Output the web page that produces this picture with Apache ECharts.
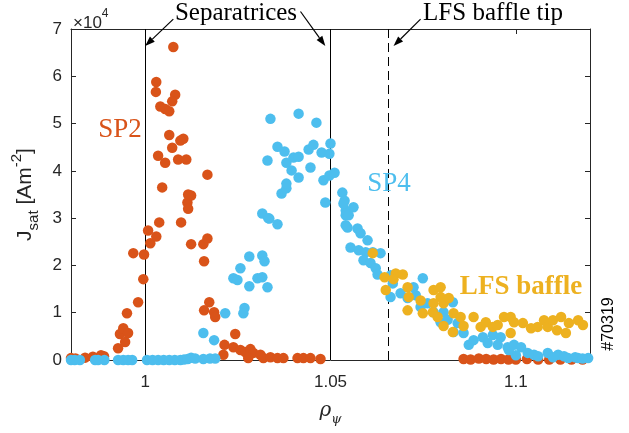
<!DOCTYPE html>
<html>
<head>
<meta charset="utf-8">
<script src="https://cdn.jsdelivr.net/npm/echarts@6/dist/echarts.min.js"></script>
<style>html,body{margin:0;padding:0;background:#fff}#c{width:629px;height:433px}</style>
</head>
<body>
<div id="c"></div>
<script>
// ---- data (x: rho_psi, y: Jsat in A m^-2) ----
const sp2 = [
  [0.9800,400],[0.9812,300],[0.9838,500],[0.9859,700],[0.9881,1000],[0.9889,800],[0.9927,2500],
  [0.9932,5500],[0.9941,6700],[0.9954,5700],[0.9946,3800],[0.9951,9900],[0.9981,12200],[0.9995,17100],
  [0.9997,22300],[0.9968,22600],[1.0008,27400],[1.0014,24700],[1.0030,26100],[1.0038,29100],[1.0097,29100],
  [1.0124,24500],[1.0157,24500],[1.0168,25700],[1.0159,20900],[1.0114,33300],[1.0116,32000],[1.0124,34800],
  [1.0046,36500],[1.0116,35000],[1.0168,39200],[1.0054,41700],[1.0035,43200],[1.0089,42400],[1.0111,42400],
  [1.0065,47600],[1.0103,46800],[1.0095,46400],[1.0073,44900],[1.0030,58800],[1.0029,56700],[1.0081,56100],
  [1.0073,54700],[1.0041,53600],[1.0054,53100],[1.0065,52600],[1.0076,66200],
  [1.0173,12200],[1.0159,10500],[1.0186,10100],[1.0189,9100],[1.0243,5500],[1.0214,3200],[1.0211,1100],
  [1.0238,2700],[1.0257,2100],[1.0270,1700],[1.0284,2300],[1.0292,1500],[1.0278,400],[1.0311,1100],
  [1.0319,400],[1.0338,600],[1.0357,400],[1.0373,400],[1.0411,400],[1.0427,400],[1.0446,400],[1.0473,200],
  [1.0859,200],[1.0878,100],[1.0900,300],[1.0920,200],[1.0940,100],[1.0960,200],[1.0980,100],[1.1000,100],
  [1.1030,200],[1.1060,100],[1.1090,100],[1.1120,100],[1.1150,100],[1.1180,100]
];
const sp4 = [
  [0.9800,0],[0.9810,0],[0.9824,0],[0.9865,0],[0.9873,0],[0.9890,0],[0.9927,0],[0.9941,0],[0.9954,0],
  [0.9965,0],[1.0005,0],[1.0020,0],[1.0035,0],[1.0050,0],[1.0065,0],[1.0080,0],[1.0095,0],[1.0105,100],
  [1.0115,200],[1.0124,500],[1.0135,300],[1.0157,200],[1.0175,300],[1.0189,300],
  [1.0157,5700],[1.0186,4200],[1.0216,9900],[1.0268,11000],[1.0265,9900],[1.0238,17300],[1.0249,16900],
  [1.0257,19400],[1.0281,21900],[1.0281,15600],[1.0303,17300],[1.0316,17500],[1.0330,15400],[1.0316,22100],
  [1.0322,20900],[1.0316,31000],[1.0332,30000],[1.0357,28700],[1.0368,35200],[1.0381,36300],[1.0381,37300],
  [1.0338,51000],[1.0414,52100],[1.0462,50200],[1.0357,45100],[1.0376,44100],[1.0330,42200],[1.0381,41700],
  [1.0400,42800],[1.0414,43000],[1.0395,40100],[1.0414,38600],[1.0446,40700],[1.0441,44500],[1.0454,45500],
  [1.0476,43900],[1.0500,45800],[1.0497,43600],[1.0481,38000],[1.0497,39000],[1.0511,39600],[1.0486,33300],
  [1.0532,35400],[1.0538,33700],[1.0541,31600],[1.0541,30600],[1.0541,28500],[1.0335,29900],
  [1.0535,33100],[1.0549,30600],[1.0562,32300],[1.0546,28000],[1.0573,27800],[1.0581,26800],[1.0600,25300],
  [1.0554,23800],[1.0576,23200],[1.0595,22800],[1.0614,22800],[1.0635,22600],[1.0589,21100],[1.0608,20500],
  [1.0622,19400],[1.0627,18100],[1.0662,17900],[1.0668,16200],[1.0662,13300],[1.0689,14100],[1.0708,13100],
  [1.0724,15400],[1.0749,17300],[1.0730,13700],[1.0743,11200],[1.0762,12000],[1.0778,10100],[1.0805,10100],
  [1.0830,12200],[1.0797,8000],[1.0816,8500],[1.0843,7800],[1.0832,5900],[1.0859,5700],[1.0873,3200],
  [1.0886,4200],[1.0911,4800],[1.0938,5300],[1.0959,4800],[1.0924,3600],[1.0951,3200],[1.0978,2700],
  [1.0981,2100],[1.0995,3200],[1.1014,2700],[1.1032,1500],[1.1049,1100],[1.1086,1500],[1.1114,1100],
  [1.1141,400],[1.1168,400],[1.1195,400],[1.1000,1000],[1.1060,800],[1.1100,600],[1.1130,800],[1.1160,600],
  [1.1180,300]
];
const lfs = [
  [1.0614,22600],[1.0646,17500],[1.0649,14800],[1.0676,18300],[1.0695,18100],[1.0670,17100],[1.0708,15400],
  [1.0711,13300],[1.0708,10500],[1.0743,12600],[1.0778,14800],[1.0797,15400],[1.0797,13300],[1.0778,12000],
  [1.0805,12000],[1.0819,13100],[1.0749,9900],[1.0776,10100],[1.0789,9100],[1.0805,7200],[1.0830,5900],
  [1.0832,9900],[1.0851,9100],[1.0859,7200],[1.0886,9100],[1.0905,7000],[1.0919,8000],[1.0938,7000],
  [1.0951,7400],[1.0968,9100],[1.0986,9100],[1.0986,5700],[1.0995,8000],[1.1019,7800],[1.1041,6700],
  [1.1059,7000],[1.1076,8400],[1.1086,7000],[1.1100,8400],[1.1111,6300],[1.1122,9100],[1.1135,5700],
  [1.1143,7800],[1.1168,8400],[1.1181,7400]
];
const xTickValues = [1, 1.05, 1.1];
const xTickLabels = ['1', '1.05', '1.1'];
const separatrices = [1.0, 1.05];
const baffleTip = 1.0657;
// annotation arrows: [start, head] in data coordinates
const arrows = [
  [[1.0076, 72100], [1.0, 66400]],
  [[1.0419, 73700], [1.0486, 66400]],
  [[1.0743, 72100], [1.0670, 66400]]
];

const AX = '#262626';
const chart = echarts.init(document.getElementById('c'), null, {renderer: 'canvas'});
const sym = 10.5;
const option = {
  animation: false,
  backgroundColor: '#fff',
  grid: {left: 71, right: 39, top: 29, bottom: 73, containLabel: false},
  xAxis: [{
    type: 'value', min: 0.98, max: 1.12,
    axisLine: {show: true, onZero: false, lineStyle: {color: AX, width: 1}},
    axisTick: {show: true, inside: true, length: 5, customValues: xTickValues, lineStyle: {color: AX}},
    axisLabel: {show: true, customValues: xTickValues, margin: 14,
      formatter: v => xTickLabels[xTickValues.findIndex(t => Math.abs(t - v) < 1e-9)] ?? '',
      color: AX, fontFamily: 'Liberation Sans', fontSize: 17},
    splitLine: {show: false},
    name: '{r|ρ}{s|ψ}', nameLocation: 'middle', nameGap: 36,
    nameTextStyle: {rich: {
      r: {fontFamily: 'DejaVu Serif', fontStyle: 'italic', fontSize: 20, color: AX, lineHeight: 30, verticalAlign: 'middle'},
      s: {fontFamily: 'DejaVu Serif', fontStyle: 'italic', fontSize: 13, color: AX, lineHeight: 30, verticalAlign: 'bottom'}
    }}
  }, {
    type: 'value', min: 0.98, max: 1.12, position: 'top',
    axisLine: {show: true, onZero: false, lineStyle: {color: AX, width: 1}},
    axisTick: {show: true, inside: true, length: 5, customValues: xTickValues, lineStyle: {color: AX}},
    axisLabel: {show: false}, splitLine: {show: false}
  }],
  yAxis: [{
    type: 'value', min: 0, max: 70000, interval: 10000,
    axisLine: {show: true, onZero: false, lineStyle: {color: AX, width: 1}},
    axisTick: {show: true, inside: true, length: 5, lineStyle: {color: AX}},
    axisLabel: {show: true, margin: 9, formatter: v => String(Math.round(v / 10000)),
      color: AX, fontFamily: 'Liberation Sans', fontSize: 17},
    splitLine: {show: false},
    name: '{j|J}{sub|sat}{t| [Am}{sup|-2}{t|]}', nameLocation: 'middle', nameGap: 30, nameRotate: 90,
    nameTextStyle: {rich: {
      j: {fontFamily: 'Liberation Sans', fontSize: 21, color: AX, lineHeight: 32, verticalAlign: 'middle'},
      t: {fontFamily: 'Liberation Sans', fontSize: 21, color: AX, lineHeight: 32, verticalAlign: 'middle'},
      sub: {fontFamily: 'Liberation Sans', fontSize: 15, color: AX, lineHeight: 32, verticalAlign: 'bottom'},
      sup: {fontFamily: 'Liberation Sans', fontSize: 15, color: AX, lineHeight: 32, verticalAlign: 'top'}
    }}
  }, {
    type: 'value', min: 0, max: 70000, interval: 10000, position: 'right',
    axisLine: {show: true, onZero: false, lineStyle: {color: AX, width: 1}},
    axisTick: {show: true, inside: true, length: 5, lineStyle: {color: AX}},
    axisLabel: {show: false}, splitLine: {show: false}
  }],
  series: [
    {type: 'scatter', name: 'SP2', data: sp2, symbolSize: sym, clip: false,
      itemStyle: {color: '#D95319', opacity: 1}, z: 2},
    {type: 'scatter', name: 'SP4', data: sp4, symbolSize: sym, clip: false,
      itemStyle: {color: '#4DBEEE', opacity: 1}, z: 3},
    {type: 'scatter', name: 'LFS baffle', data: lfs, symbolSize: sym, clip: false,
      itemStyle: {color: '#EDB120', opacity: 1}, z: 4,
      markLine: {silent: true, symbol: 'none', animation: false, precision: 6, label: {show: false}, z: 1,
        data: [
          ...separatrices.map(v => ({xAxis: v, lineStyle: {color: '#000', width: 1, type: 'solid'}})),
          {xAxis: baffleTip, lineStyle: {color: '#000', width: 1, type: [9, 5]}}
        ]}}
  ]
};
chart.setOption(option);

const P = d => chart.convertToPixel({xAxisIndex: 0, yAxisIndex: 0}, d);
const graphics = [];
arrows.forEach(([s, h]) => {
  const a = P(s), b = P(h);
  const dx = b[0] - a[0], dy = b[1] - a[1], L = Math.hypot(dx, dy);
  const ux = dx / L, uy = dy / L, hl = 10, hw = 3.5;
  const bx = b[0] - ux * hl, by = b[1] - uy * hl;
  graphics.push({type: 'line', shape: {x1: a[0], y1: a[1], x2: bx, y2: by}, style: {stroke: '#000', lineWidth: 1.2}, z: 10});
  graphics.push({type: 'polygon', shape: {points: [[b[0], b[1]], [bx - uy * hw, by + ux * hw], [bx + uy * hw, by - ux * hw]]}, style: {fill: '#000'}, z: 10});
});
const serif = 'Liberation Serif';
graphics.push(
  {type: 'text', x: 236, y: 13, style: {text: 'Separatrices', font: '25px "' + serif + '"', fill: '#000', align: 'center', verticalAlign: 'middle'}, z: 11},
  {type: 'text', x: 493, y: 13, style: {text: 'LFS baffle tip', font: '25px "' + serif + '"', fill: '#000', align: 'center', verticalAlign: 'middle'}, z: 11},
  {type: 'text', x: 120, y: 130, style: {text: 'SP2', font: '27px "' + serif + '"', fill: '#D95319', align: 'center', verticalAlign: 'middle'}, z: 11},
  {type: 'text', x: 389, y: 184, style: {text: 'SP4', font: '27px "' + serif + '"', fill: '#4DBEEE', align: 'center', verticalAlign: 'middle'}, z: 11},
  {type: 'text', x: 521, y: 287, style: {text: 'LFS baffle', font: 'bold 27px "' + serif + '"', fill: '#EDB120', align: 'center', verticalAlign: 'middle'}, z: 11},
  {type: 'text', x: 73, y: 20, style: {
    text: '{a|×10}{b|4}', fill: AX, verticalAlign: 'middle', align: 'left',
    rich: {a: {fontFamily: 'Liberation Sans', fontSize: 17, color: AX, lineHeight: 24, verticalAlign: 'bottom'},
           b: {fontFamily: 'Liberation Sans', fontSize: 12, color: AX, lineHeight: 24, verticalAlign: 'top'}}
  }, z: 11},
  {type: 'text', x: 609, y: 324, rotation: Math.PI / 2, style: {text: '#70319', font: '16px "Liberation Sans"', fill: '#000', align: 'center', verticalAlign: 'middle'}, z: 11}
);
chart.setOption({graphic: graphics});
</script>
</body>
</html>
